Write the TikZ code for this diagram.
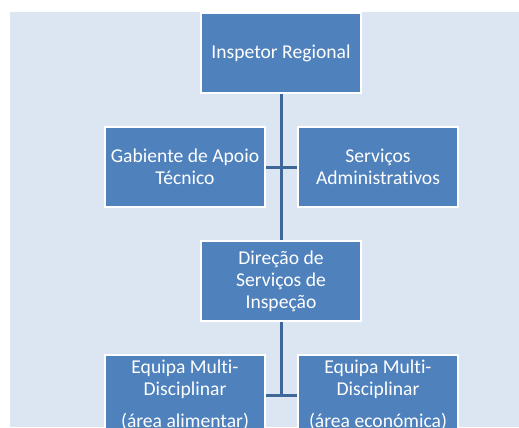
\documentclass[tikz,border=0pt]{standalone}
\usepackage{fontspec}
\setmainfont[Ligatures=NoCommon]{Carlito}
\usepackage{xcolor}
\usepackage{tikz}
\usetikzlibrary{positioning}
\usetikzlibrary{calc}

\definecolor{boxblue}{HTML}{4F81BD}
\definecolor{bgblue}{HTML}{DCE6F2}
\definecolor{lineblue}{HTML}{3E6699}

\begin{document}
\begin{tikzpicture}[
  x=1bp, y=-1bp,
  node distance=32bp and 31bp,
  box/.style={draw=white, line width=2bp, fill=boxblue, text=white,
    minimum width=160bp, minimum height=80bp, inner sep=2pt, align=center,
    font=\fontsize{19.6bp}{22bp}\selectfont},
  link/.style={draw=lineblue, line width=3bp}
]

% Frame
\useasboundingbox (0,0) rectangle (519,427);
\clip (0,0) rectangle (519,427);
\fill[bgblue] (10,12) rectangle (519,427);

% Top
\node[box] (insp) at (281,53) {Inspetor Regional};

% Staff boxes side by side
\node[box, below=of insp, xshift=-96bp] (gab) {Gabiente de Apoio \\ Técnico};
\node[box, right=of gab] (serv) {Serviços \\ Administrativos};

% Direction
\node[box, below=of gab, xshift=96bp] (dir) {Direção de \\ Serviços de \\ Inspeção};

% Teams
\node[box, below=of dir, xshift=-96bp] (eqa) {Equipa Multi- \\ Disciplinar \\[10bp] (área alimentar)};
\node[box, right=of eqa] (eqe) {Equipa Multi- \\ Disciplinar \\[10bp] (área económica)};

% Connectors
\draw[link] (insp.south) -- (dir.north);
\draw[link] (gab.east) -- (serv.west);
\draw[link] (dir.south) -- (dir.south |- eqa.east);
\draw[link] (eqa.east) -- (eqe.west);

\end{tikzpicture}
\end{document}
